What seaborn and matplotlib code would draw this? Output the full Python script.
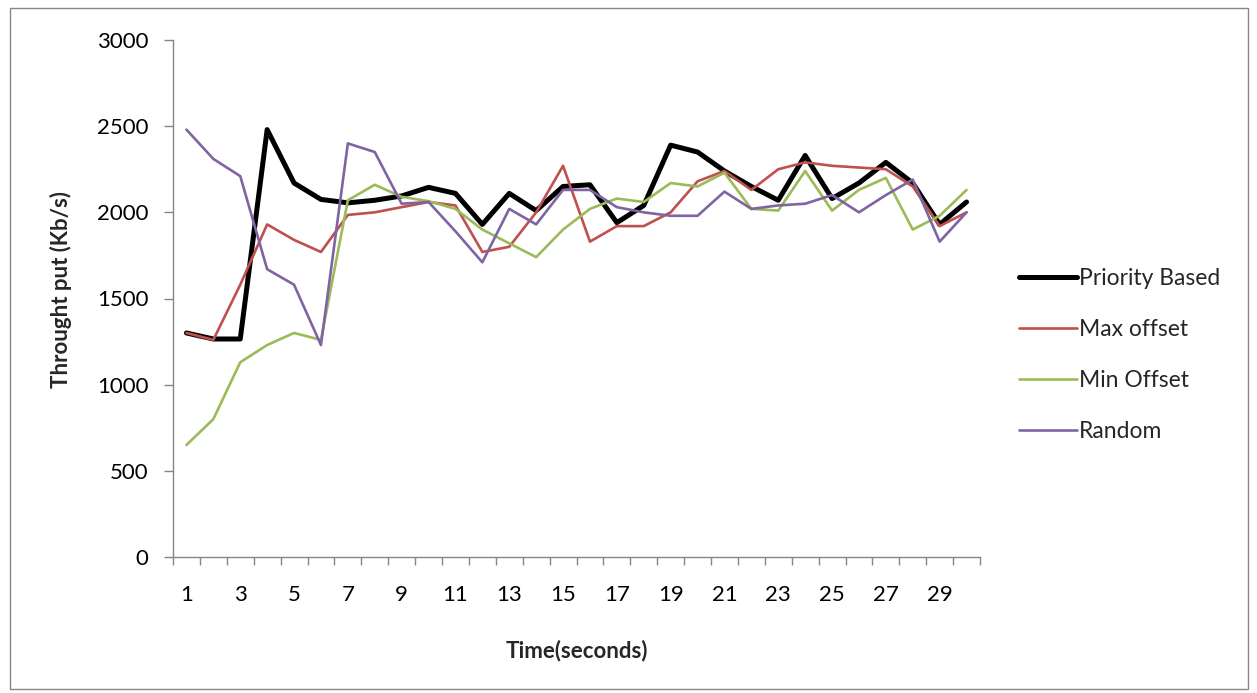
import numpy as np
import pandas as pd
import matplotlib
matplotlib.use("Agg")
import matplotlib.pyplot as plt
from matplotlib.patches import Rectangle
from matplotlib.ticker import FixedLocator
import seaborn as sns

time = list(range(1, 31))
priority = [1300, 1265, 1265, 2480, 2170, 2075, 2055, 2070, 2095, 2145,
            2110, 1930, 2110, 2010, 2150, 2160, 1940, 2040, 2390, 2350,
            2240, 2150, 2070, 2330, 2080, 2170, 2290, 2170, 1930, 2060]
max_offset = [1300, 1260, 1580, 1930, 1840, 1770, 1985, 2000, 2030, 2060,
              2040, 1770, 1800, 2000, 2270, 1830, 1920, 1920, 2000, 2180,
              2240, 2130, 2250, 2290, 2270, 2260, 2250, 2150, 1920, 2000]
min_offset = [650, 800, 1130, 1230, 1300, 1260, 2070, 2160, 2090, 2065,
              2020, 1900, 1820, 1740, 1900, 2020, 2080, 2060, 2170, 2150,
              2230, 2020, 2010, 2240, 2010, 2130, 2200, 1900, 1980, 2130]
random_ = [2480, 2310, 2210, 1670, 1580, 1230, 2400, 2350, 2050, 2060,
           1890, 1710, 2020, 1930, 2130, 2130, 2030, 2000, 1980, 1980,
           2120, 2020, 2040, 2050, 2100, 2000, 2100, 2190, 1830, 2000]
series_names = ["Priority Based", "Max offset", "Min Offset", "Random"]
y_ticks = [0, 500, 1000, 1500, 2000, 2500, 3000]
x_tick_labels = [1, 3, 5, 7, 9, 11, 13, 15, 17, 19, 21, 23, 25, 27, 29]

sns.set_style("white")
plt.rcParams["font.family"] = ["Lato", "DejaVu Sans"]

W, H = 1257, 693
fig = plt.figure(figsize=(W/100, H/100), dpi=100)
L, R, T, B = 173, 980, 40, 557
ax = fig.add_axes([L/W, 1-B/H, (R-L)/W, (B-T)/H])

colors = ["#000000", "#C0504D", "#9BBB59", "#8064A2"]
widths = [3.6, 1.9, 1.9, 1.9]
for name, vals, c, w in zip(series_names, [priority, max_offset, min_offset, random_], colors, widths):
    sns.lineplot(x=time, y=vals, ax=ax, color=c, linewidth=w, label=name)

gray = "#868686"
fs = 16
ax.set_xlim(0.5, 30.5)
ax.set_ylim(0, 3000)
ax.set_yticks(y_ticks)
ax.set_xticks(x_tick_labels)
ax.set_xticklabels([str(v) for v in x_tick_labels])
ax.xaxis.set_minor_locator(FixedLocator(np.arange(0.5, 31, 1)))
ax.tick_params(axis="x", which="major", length=0, pad=20, labelsize=fs, colors="black")
ax.tick_params(axis="x", which="minor", length=5.5, width=1, color=gray, direction="out", bottom=True)
ax.tick_params(axis="y", which="major", length=6.5, width=1, color=gray, direction="out",
               left=True, pad=11, labelsize=fs, labelcolor="black")
for s in ["top", "right"]:
    ax.spines[s].set_visible(False)
for s in ["left", "bottom"]:
    ax.spines[s].set_color(gray)
    ax.spines[s].set_linewidth(1)

ax.set_xlabel("Time(seconds)", fontsize=fs, fontweight="bold")
ax.xaxis.set_label_coords(0.5, -(640-B)/(B-T))
ax.set_ylabel("Throught put (Kb/s)", fontsize=fs, fontweight="bold")
ax.yaxis.set_label_coords(-(L-72)/(R-L), 1-(290-T)/(B-T))

leg = ax.legend(loc="center left", bbox_to_anchor=(1008/W, 1-355/H),
                bbox_transform=fig.transFigure, frameon=False, borderpad=0,
                fontsize=fs + 0.5, handlelength=2.5, handletextpad=0.1, labelspacing=1.3)

fig.patches.append(Rectangle((10/W, 1-689/H), 1238/W, 681/H,
                             transform=fig.transFigure, fill=False,
                             edgecolor=gray, linewidth=1))

fig.savefig("out.png", dpi=100)
